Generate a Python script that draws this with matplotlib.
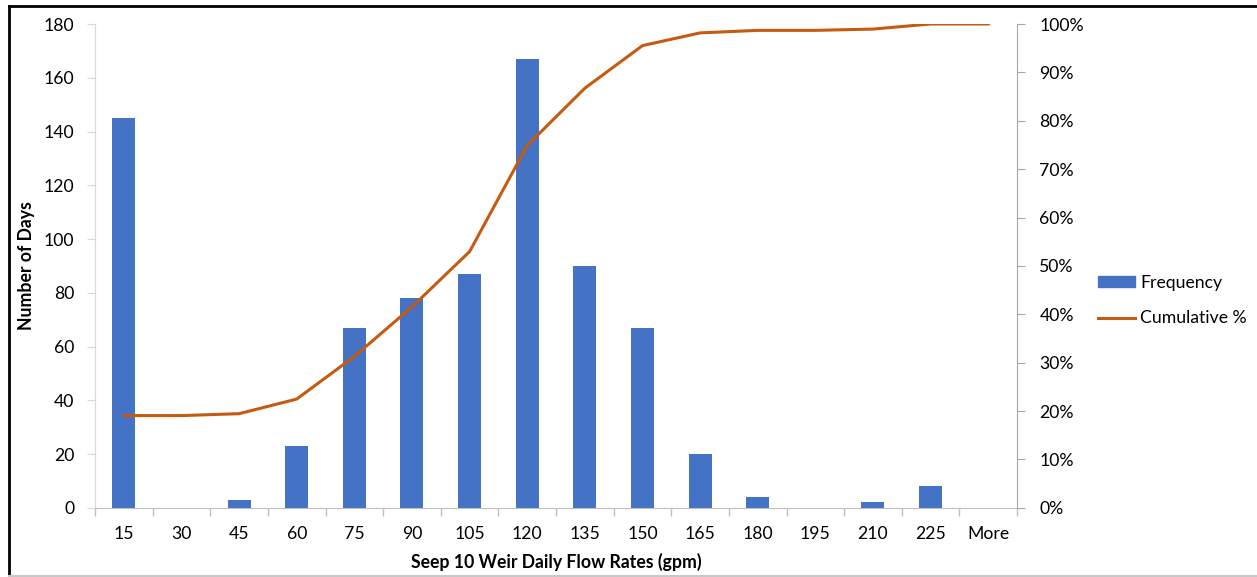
import numpy as np
import matplotlib
matplotlib.use("Agg")
import matplotlib.pyplot as plt
from matplotlib.lines import Line2D
from matplotlib.ticker import PercentFormatter

bins = ['15', '30', '45', '60', '75', '90', '105', '120', '135', '150',
        '165', '180', '195', '210', '225', 'More']
frequency = [145, 0, 3, 23, 67, 78, 87, 167, 90, 67, 20, 4, 0, 2, 8, 0]

plt.rcParams['font.family'] = ['Lato', 'DejaVu Sans']

BAR = '#4472C4'
LINE = '#C55A11'
FS = 12.7

cumulative = np.cumsum(frequency) / np.sum(frequency) * 100
x = np.arange(len(bins))

fig = plt.figure(figsize=(12.57, 5.77), dpi=100)
ax = fig.add_axes([0.0756, 0.120, 0.7335, 0.8384])

ax.bar(x, frequency, width=0.4, color=BAR, zorder=2)
ax.set_xlim(-0.5, len(bins) - 0.5)
ax.set_ylim(0, 180)
ax.set_yticks(range(0, 181, 20))
ax.set_xticks(x)
ax.set_xticklabels(bins)
ax.set_xticks(np.arange(-0.5, len(bins)), minor=True)
ax.tick_params(axis='x', which='major', length=0, pad=13, labelsize=FS)
ax.tick_params(axis='x', which='minor', length=6, color='#BFBFBF', width=1)
ax.tick_params(axis='y', length=6, color='#D9D9D9', pad=9, labelsize=FS)
for s in ['top', 'right']:
    ax.spines[s].set_visible(False)
ax.spines['left'].set_color('#D9D9D9')
ax.spines['bottom'].set_color('#BFBFBF')
ax.set_ylabel('Number of Days', fontsize=FS, fontweight='bold', labelpad=6)
ax.set_xlabel('Seep 10 Weir Daily Flow Rates (gpm)', fontsize=FS,
              fontweight='bold', labelpad=8)

ax2 = ax.twinx()
ax2.plot(x, cumulative, color=LINE, lw=2.2, zorder=3)
ax2.set_ylim(0, 100)
ax2.set_yticks(range(0, 101, 10))
ax2.yaxis.set_major_formatter(PercentFormatter(decimals=0))
ax2.tick_params(axis='y', length=6, color='#A6A6A6', pad=10, labelsize=FS)
for s in ['top', 'left', 'bottom']:
    ax2.spines[s].set_visible(False)
ax2.spines['right'].set_color('#A6A6A6')

handles = [plt.Rectangle((0, 0), 1, 1, color=BAR),
           Line2D([0], [0], color=LINE, lw=2.2)]
fig.legend(handles, ['Frequency', 'Cumulative %'], loc='upper left',
           bbox_to_anchor=(0.861, 0.551), frameon=False, fontsize=FS,
           handlelength=2.1, handleheight=0.55, labelspacing=1.1,
           handletextpad=0.3)

# outer frame
fig.add_artist(Line2D([0.0068, 0.0068], [0, 0.99], color='black', lw=2,
                      transform=fig.transFigure))
fig.add_artist(Line2D([0.0068, 1], [0.99, 0.99], color='black', lw=2,
                      transform=fig.transFigure))
fig.add_artist(Line2D([0.0068, 1], [0.002, 0.002], color='#C8C8C8', lw=1.5,
                      transform=fig.transFigure))

fig.savefig('out.png', dpi=100)
